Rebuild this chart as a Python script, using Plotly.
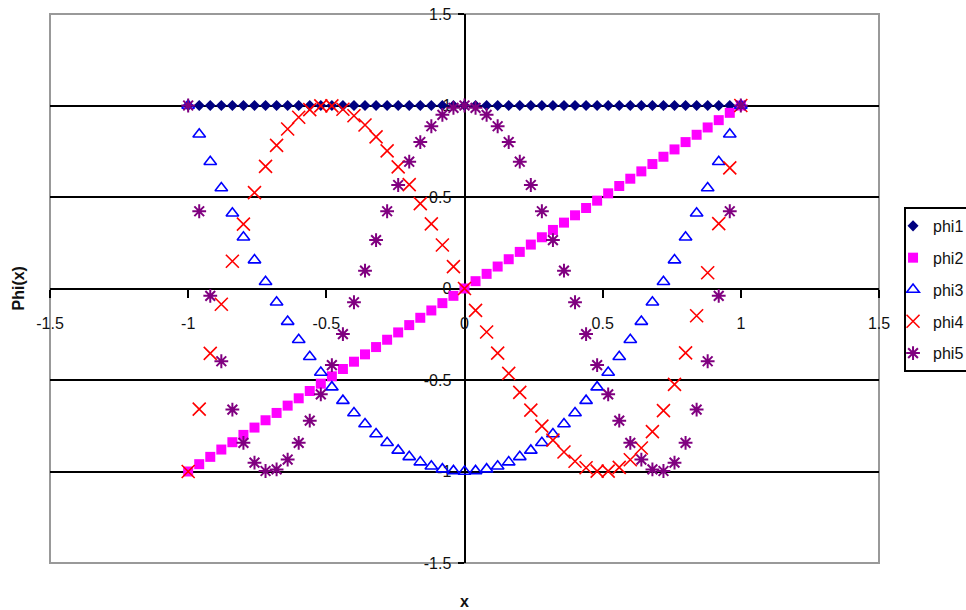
import plotly.graph_objects as go

# Sample points along x
x_vals = [-1.00, -0.96, -0.92, -0.88, -0.84, -0.80, -0.76, -0.72, -0.68, -0.64,
          -0.60, -0.56, -0.52, -0.48, -0.44, -0.40, -0.36, -0.32, -0.28, -0.24,
          -0.20, -0.16, -0.12, -0.08, -0.04, 0.00, 0.04, 0.08, 0.12, 0.16,
          0.20, 0.24, 0.28, 0.32, 0.36, 0.40, 0.44, 0.48, 0.52, 0.56,
          0.60, 0.64, 0.68, 0.72, 0.76, 0.80, 0.84, 0.88, 0.92, 0.96, 1.00]

phi1 = [1.0, 1.0, 1.0, 1.0, 1.0, 1.0, 1.0, 1.0, 1.0, 1.0,
        1.0, 1.0, 1.0, 1.0, 1.0, 1.0, 1.0, 1.0, 1.0, 1.0,
        1.0, 1.0, 1.0, 1.0, 1.0, 1.0, 1.0, 1.0, 1.0, 1.0,
        1.0, 1.0, 1.0, 1.0, 1.0, 1.0, 1.0, 1.0, 1.0, 1.0,
        1.0, 1.0, 1.0, 1.0, 1.0, 1.0, 1.0, 1.0, 1.0, 1.0, 1.0]

phi2 = [-1.00, -0.96, -0.92, -0.88, -0.84, -0.80, -0.76, -0.72, -0.68, -0.64,
        -0.60, -0.56, -0.52, -0.48, -0.44, -0.40, -0.36, -0.32, -0.28, -0.24,
        -0.20, -0.16, -0.12, -0.08, -0.04, 0.00, 0.04, 0.08, 0.12, 0.16,
        0.20, 0.24, 0.28, 0.32, 0.36, 0.40, 0.44, 0.48, 0.52, 0.56,
        0.60, 0.64, 0.68, 0.72, 0.76, 0.80, 0.84, 0.88, 0.92, 0.96, 1.00]

phi3 = [1.0, 0.8432, 0.6928, 0.5488, 0.4112, 0.28, 0.1552, 0.0368, -0.0752, -0.1808,
        -0.28, -0.3728, -0.4592, -0.5392, -0.6128, -0.68, -0.7408, -0.7952, -0.8432, -0.8848,
        -0.92, -0.9488, -0.9712, -0.9872, -0.9968, -1.0, -0.9968, -0.9872, -0.9712, -0.9488,
        -0.92, -0.8848, -0.8432, -0.7952, -0.7408, -0.68, -0.6128, -0.5392, -0.4592, -0.3728,
        -0.28, -0.1808, -0.0752, 0.0368, 0.1552, 0.28, 0.4112, 0.5488, 0.6928, 0.8432, 1.0]

phi4 = [-1.0, -0.6589, -0.3548, -0.0859, 0.1492, 0.352, 0.5241, 0.667, 0.7823, 0.8714,
        0.936, 0.9775, 0.9976, 0.9976, 0.9793, 0.944, 0.8934, 0.8289, 0.7522, 0.6647,
        0.568, 0.4636, 0.3531, 0.238, 0.1197, 0.0, -0.1197, -0.238, -0.3531, -0.4636,
        -0.568, -0.6647, -0.7522, -0.8289, -0.8934, -0.944, -0.9793, -0.9976, -0.9976, -0.9775,
        -0.936, -0.8714, -0.7823, -0.667, -0.5241, -0.352, -0.1492, 0.0859, 0.3548, 0.6589, 1.0]

phi5 = [1.0, 0.422, -0.0401, -0.3976, -0.6618, -0.8432, -0.9518, -0.9973, -0.9887, -0.9346,
        -0.8432, -0.722, -0.5783, -0.4185, -0.249, -0.0752, 0.0976, 0.2647, 0.422, 0.5657,
        0.6928, 0.8004, 0.8865, 0.9491, 0.9872, 1.0, 0.9872, 0.9491, 0.8865, 0.8004,
        0.6928, 0.5657, 0.422, 0.2647, 0.0976, -0.0752, -0.249, -0.4185, -0.5783, -0.722,
        -0.8432, -0.9346, -0.9887, -0.9973, -0.9518, -0.8432, -0.6618, -0.3976, -0.0401, 0.422, 1.0]

series_names = ["phi1", "phi2", "phi3", "phi4", "phi5"]
tick_vals = [-1.5, -1, -0.5, 0, 0.5, 1, 1.5]
tick_text = ["-1.5", "-1", "-0.5", "0", "0.5", "1", "1.5"]

markers = [
    dict(symbol="diamond", size=8.5, color="#000080", line=dict(width=0)),
    dict(symbol="square", size=10, color="#FF00FF", line=dict(width=0)),
    dict(symbol="triangle-up-open", size=11, color="#0000FF", line=dict(width=1.6, color="#0000FF")),
    dict(symbol="x-thin-open", size=13, color="#FF0000", line=dict(width=1.6, color="#FF0000")),
    dict(symbol="asterisk-open", size=11.5, color="#800080", line=dict(width=2, color="#800080")),
]

fig = go.Figure()
for name, ys, mk in zip(series_names, [phi1, phi2, phi3, phi4, phi5], markers):
    fig.add_trace(go.Scatter(x=x_vals, y=ys, mode="markers", name=name,
                             legendgroup=name, marker=mk))

font_family = "Arial, Liberation Sans, sans-serif"

fig.update_layout(
    width=966, height=610,
    margin=dict(l=50, r=87, t=14, b=47, autoexpand=False),
    paper_bgcolor="white", plot_bgcolor="white",
    font=dict(family=font_family, size=16, color="#111111"),
    xaxis=dict(range=[-1.5, 1.5], tickmode="array", tickvals=tick_vals, ticktext=tick_text,
               anchor="free", position=0.5, showline=True, linecolor="black", linewidth=2,
               ticks="outside", ticklen=8, tickwidth=2, tickcolor="black",
               showgrid=False, zeroline=False, ticklabelstandoff=12, layer="below traces"),
    yaxis=dict(range=[-1.5, 1.5], tickmode="array", tickvals=tick_vals, ticktext=tick_text,
               anchor="free", position=0.5, showline=True, linecolor="black", linewidth=2,
               ticks="outside", ticklen=6, tickwidth=2, tickcolor="black",
               showgrid=True, gridcolor="black", gridwidth=2, zeroline=False,
               ticklabelstandoff=3, layer="below traces"),
    legend=dict(x=1.0302, xanchor="left", y=0.6485, yanchor="top",
                bordercolor="black", borderwidth=2, bgcolor="white",
                font=dict(family=font_family, size=16, color="#111111"),
                tracegroupgap=8, indentation=-13),
    shapes=[dict(type="rect", xref="paper", yref="paper", x0=0, x1=1, y0=0, y1=1,
                 line=dict(color="#999999", width=2), layer="below")],
    annotations=[
        dict(text="Phi(x)", xref="paper", yref="paper", x=-0.0386, y=0.5,
             textangle=-90, showarrow=False, xanchor="center", yanchor="middle",
             font=dict(family=font_family, size=16, color="#111111", weight="bold")),
        dict(text="x", xref="paper", yref="paper", x=0.5, y=-0.071,
             showarrow=False, xanchor="center", yanchor="middle",
             font=dict(family=font_family, size=16, color="#111111", weight="bold")),
    ],
)

fig.write_html("out.html")
